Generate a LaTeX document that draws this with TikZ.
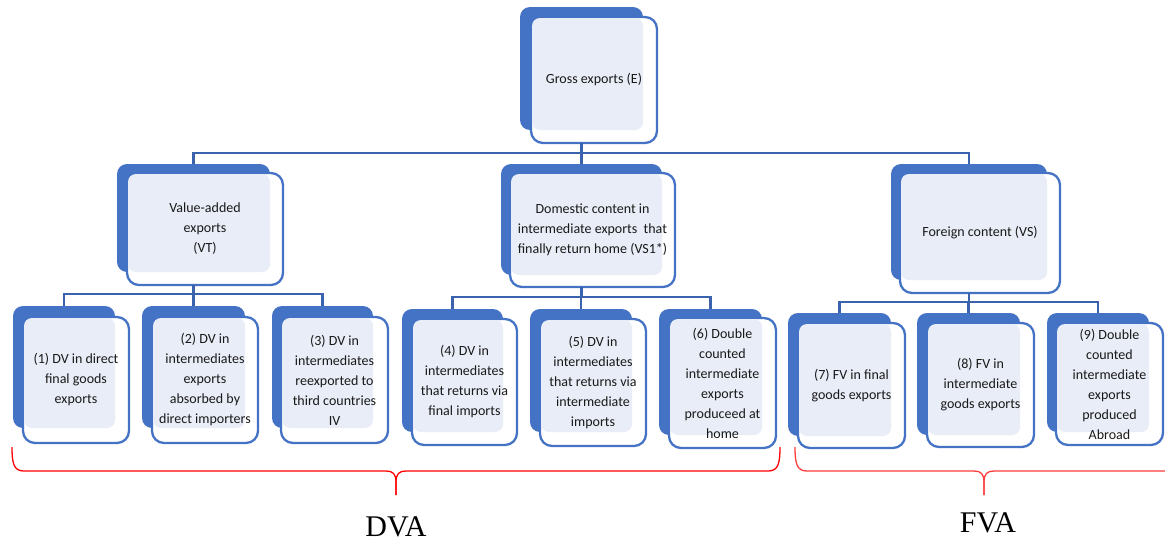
\documentclass[tikz,border=0pt]{standalone}
\usepackage{fontspec}
\setmainfont{Carlito}
\newfontfamily\bracefont{Liberation Serif}
\definecolor{boxblue}{HTML}{4472C4}
\definecolor{lightfill}{HTML}{E9EDF7}
\definecolor{connblue}{HTML}{3B62AD}
\definecolor{braceA}{HTML}{FF0000}
\definecolor{braceB}{HTML}{FF3B3B}
\tikzset{
 backbox/.style={fill=boxblue, rounded corners=10pt, inner sep=0, outer sep=0, draw=none},
 outbox/.style={fill=white, draw=boxblue, line width=2.3pt, rounded corners=12pt, inner sep=0, outer sep=0},
 litebox/.style={fill=lightfill, rounded corners=8pt, inner sep=0, outer sep=0, draw=none},
 boxtext/.style={align=center, font=\fontsize{14}{20}\selectfont, text=black!90, inner sep=0},
 conn/.style={draw=connblue, line width=2.3pt},
 bracered/.style={line width=1.3pt},
 biglabel/.style={font=\bracefont\fontsize{30}{30}\selectfont, inner sep=0},
}
\def\tribox#1(#2,#3)(#4,#5)(#6,#7)(#8,#9){%
 \node[backbox, minimum width={(#4-#2)*1pt}, minimum height={(#5-#3)*1pt}] (#1-b) at ({(#2+#4)/2},{(#3+#5)/2}) {};
 \node[outbox, minimum width={(#8-#6)*1pt}, minimum height={(#9-#7)*1pt}] (#1-o) at ({(#6+#8)/2},{(#7+#9)/2}) {};
 \node[litebox, minimum width={(#4-#6-1)*1pt}, minimum height={(#5-#7-1)*1pt}] (#1-l) at ({(#6+1+#4)/2},{(#7+1+#5)/2}) {};
}
\begin{document}
\begin{tikzpicture}[x=1pt,y=-1pt]
\useasboundingbox (0,0) rectangle (1165,546);
% boxes
\tribox{top}(520,7)(643,130)(531,17)(657,143)
\tribox{vt}(117,164)(270,272)(127,173)(283,285)
\tribox{vsa}(501,164)(662,275)(510,173)(675,287)
\tribox{vs}(891,164)(1047,280)(900,173)(1060,293)
\tribox{bA}(13,306)(115,428)(23,317)(129,443)
\tribox{bB}(142,306)(245,428)(152,317)(258,443)
\tribox{bC}(272,306)(373,428)(281,317)(388,443)
\tribox{bD}(402,309)(503,432)(412,319)(517,445)
\tribox{bE}(530,309)(632,432)(540,319)(646,446)
\tribox{bF}(659,309)(762,435)(669,318)(776,448)
\tribox{bG}(788,313)(891,436)(798,323)(905,448)
\tribox{bH}(917,313)(1020,435)(927,323)(1034,447)
\tribox{bI}(1047,313)(1149,432)(1056,323)(1163,445)
% texts
\node[boxtext] (top) at (top-o.center) {Gross exports (E)};
\node[boxtext] (vt) at (vt-o.center) {Value-added\\exports\\(VT)};
\node[boxtext] (vsa) at (vsa-o.center) {Domestic content in\\intermediate exports\ \ that\\finally return home (VS1*)};
\node[boxtext] (vs) at (vs-o.center) {Foreign content (VS)};
\node[boxtext] (tA) at (bA-o.center) {(1) DV in direct\\final goods\\exports};
\node[boxtext] (tB) at (bB-o.center) {(2) DV in\\intermediates\\exports\\absorbed by\\direct importers};
\node[boxtext] (tC) at (bC-o.center) {(3) DV in\\intermediates\\reexported to\\third countries\\IV};
\node[boxtext] (tD) at (bD-o.center) {(4) DV in\\intermediates\\that returns via\\final imports};
\node[boxtext] (tE) at (bE-o.center) {(5) DV in\\intermediates\\that returns via\\intermediate\\imports};
\node[boxtext] (tF) at (bF-o.center) {(6) Double\\counted\\intermediate\\exports\\produceed at\\home};
\node[boxtext] (tG) at (bG-o.center) {(7) FV in final\\goods exports};
\node[boxtext] (tH) at (bH-o.center) {(8) FV in\\intermediate\\goods exports};
\node[boxtext] (tI) at (bI-o.center) {(9) Double\\counted\\intermediate\\exports\\produced\\Abroad};
% connectors
\coordinate (bus0) at (0,153);
\coordinate (bus1) at (0,294);
\coordinate (bus2) at (0,297);
\coordinate (bus3) at (0,302);
\draw[conn] (top-b.center |- top-o.south) -- (top-b.center |- bus0);
\draw[conn] (vt-b.north) |- (vs-b.north |- bus0) -- (vs-b.north);
\draw[conn] (vsa-b.north) -- (vsa-b.north |- bus0);
\draw[conn] (vt-b.center |- vt-o.south) -- (vt-b.center |- bus1);
\draw[conn] (bA-b.north) |- (bC-b.north |- bus1) -- (bC-b.north);
\draw[conn] (bB-b.north) -- (bB-b.north |- bus1);
\draw[conn] (vsa-b.center |- vsa-o.south) -- (vsa-b.center |- bus2);
\draw[conn] (bD-b.north) |- (bF-b.north |- bus2) -- (bF-b.north);
\draw[conn] (bE-b.north) -- (bE-b.north |- bus2);
\draw[conn] (vs-b.center |- vs-o.south) -- (vs-b.center |- bus3);
\draw[conn] (bG-b.north) |- (bI-b.north |- bus3) -- (bI-b.north);
\draw[conn] (bH-b.north) -- (bH-b.north |- bus3);
% braces
\coordinate (dL) at (12,447);
\coordinate (dR) at (780,447);
\coordinate (dT) at (396,495);
\coordinate (fL) at (795,447);
\coordinate (fT) at (984,495);
\coordinate (fR) at (1180,471);
\draw[bracered, draw=braceA] (dL) .. controls (12,464) and (14,471) .. (24,471) -- (386,471) .. controls (393,471) and (396,474) .. (396,482) -- (dT);
\draw[bracered, draw=braceA] (dT) -- (396,482) .. controls (396,474) and (399,471) .. (406,471) -- (768,471) .. controls (778,471) and (780,464) .. (dR);
\draw[bracered, draw=braceB] (fL) .. controls (795,464) and (797,471) .. (807,471) -- (974,471) .. controls (981,471) and (984,474) .. (984,482) -- (fT);
\draw[bracered, draw=braceB] (fT) -- (984,482) .. controls (984,474) and (987,471) .. (994,471) -- (fR);
% labels
\node[biglabel] (dva) at (396,527) {DVA};
\node[biglabel] (fva) at (988,523) {FVA};
\end{tikzpicture}
\end{document}
